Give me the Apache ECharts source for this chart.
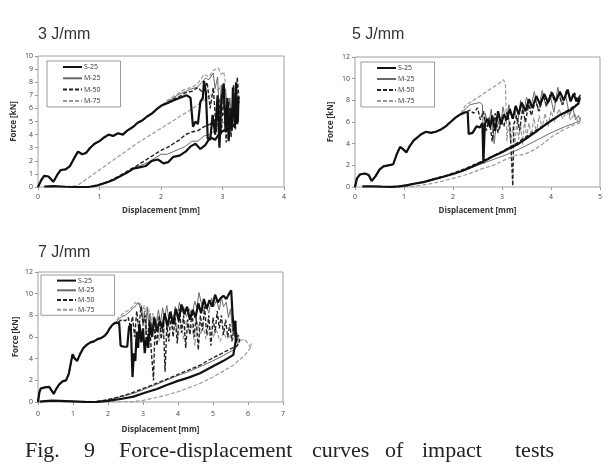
<!DOCTYPE html>
<html>
<head>
<meta charset="utf-8">
<script src="https://cdn.jsdelivr.net/npm/echarts@6/dist/echarts.min.js"></script>
<style>
  html, body { margin: 0; padding: 0; background: #fff; }
  #chart { width: 612px; height: 472px; }
</style>
</head>
<body>
<div id="chart"></div>
<script>
// --- data: [displacement mm, force kN] ---

const seriesNames = ['S-25', 'M-25', 'M-50', 'M-75']
const panelTitles = ['3 J/mm', '5 J/mm', '7 J/mm']

// 3 J/mm
const load3 = [[0,0],[0.05,0.5],[0.1,0.85],[0.17,0.8],[0.25,0.4],[0.31,0.9],[0.37,1.3],[0.45,1.35],[0.52,1.6],[0.6,2.3],[0.65,2.7],[0.72,2.5],[0.78,2.6],[0.85,3.0],[0.92,3.3],[1.0,3.5],[1.08,3.8],[1.15,4.0],[1.22,3.9],[1.3,4.1],[1.38,4.0],[1.45,4.3],[1.55,4.6],[1.62,4.9],[1.7,5.1],[1.78,5.4],[1.85,5.6],[1.92,5.9],[2.0,6.2]]
const s25_3 = [[2.1,6.4],[2.2,6.6],[2.3,6.8],[2.42,7.0],[2.48,6.8],[2.52,4.6],[2.56,5.0],[2.6,4.8],[2.64,6.5],[2.68,6.8],[2.7,8.1],[2.73,7.2],[2.76,3.7],[2.8,3.6],[2.84,5.5],[2.88,4.0],[2.92,7.0],[2.95,3.0],[2.98,6.5],[3.02,7.9],[3.05,4.2],[3.08,6.8],[3.1,3.5],[3.13,6.0],[3.15,4.3],[3.17,7.6],[3.2,4.5],[3.22,8.0],[3.24,4.8],[3.26,6.9],[3.25,5.0],[3.15,4.6],[3.05,4.4],[2.95,4.1],[2.88,3.6],[2.8,3.8],[2.72,3.2],[2.64,2.9],[2.56,3.3],[2.48,3.1],[2.4,2.7],[2.3,2.4],[2.2,2.3],[2.12,1.9],[2.04,1.8],[1.95,2.1],[1.85,2.0],[1.75,1.6],[1.65,1.5],[1.55,1.4],[1.45,1.1],[1.35,0.85],[1.25,0.6],[1.15,0.4],[1.05,0.25],[0.95,0.1],[0.85,0.02],[0.7,0],[0.45,0.02],[0.25,0.06],[0.1,0.04]]
const m25_3 = [[2.1,6.5],[2.2,6.8],[2.3,7.1],[2.4,7.3],[2.5,7.5],[2.58,7.6],[2.65,7.9],[2.72,8.3],[2.78,8.2],[2.85,8.7],[2.88,7.5],[2.92,8.4],[2.95,5.5],[2.98,7.8],[3.02,6.0],[3.05,7.5],[3.08,5.2],[3.12,6.8],[3.15,5.0],[3.1,5.0],[3.0,4.9],[2.9,4.4],[2.8,4.0],[2.7,3.9],[2.6,3.5],[2.5,3.5],[2.4,3.1],[2.3,2.9],[2.2,2.7],[2.1,2.5],[2.0,2.5],[1.9,2.2],[1.8,1.9],[1.7,1.7],[1.6,1.5],[1.5,1.3],[1.4,1.0],[1.3,0.75],[1.2,0.5],[1.1,0.3],[1.0,0.15],[0.9,0.05],[0.8,0]]
const m50_3 = [[2.1,6.4],[2.2,6.7],[2.3,6.9],[2.4,7.2],[2.5,7.3],[2.6,7.6],[2.68,7.2],[2.75,8.0],[2.8,6.0],[2.85,7.6],[2.9,4.2],[2.94,6.8],[2.98,4.0],[3.02,7.2],[3.06,3.4],[3.1,6.5],[3.14,3.8],[3.18,7.8],[3.21,4.4],[3.24,8.4],[3.27,6.5],[3.25,6.3],[3.2,6.2],[3.1,5.8],[3.0,5.5],[2.9,5.2],[2.8,4.8],[2.7,4.6],[2.6,4.3],[2.5,4.2],[2.4,4.0],[2.3,3.6],[2.2,3.3],[2.1,3.0],[2.0,2.8],[1.9,2.5],[1.8,2.2],[1.7,1.9],[1.6,1.6],[1.5,1.35],[1.4,1.05],[1.3,0.8],[1.2,0.55],[1.1,0.35],[1.0,0.2],[0.9,0.08],[0.8,0.02],[0.7,0]]
const m75_3 = [[2.1,6.6],[2.2,6.9],[2.3,7.2],[2.4,7.5],[2.5,7.6],[2.6,7.9],[2.7,8.6],[2.78,8.4],[2.85,8.9],[2.93,9.1],[2.98,8.6],[3.02,8.8],[3.05,7.9],[2.55,6.1],[1.6,3.3],[0.63,0.08],[0.4,0.03],[0.2,0.05]]

// 5 J/mm
const load5 = [[0,0],[0.04,0.8],[0.1,1.15],[0.2,1.25],[0.28,1.1],[0.34,0.55],[0.42,1.0],[0.5,1.6],[0.58,1.9],[0.68,2.0],[0.78,2.1],[0.85,3.0],[0.92,3.7],[0.98,3.5],[1.05,3.2],[1.12,3.8],[1.2,4.3],[1.28,4.6],[1.36,4.9],[1.45,5.1],[1.55,5.0],[1.65,5.1],[1.75,5.3],[1.85,5.6],[1.95,6.0],[2.05,6.4],[2.15,6.7]]
const s25_5 = [[2.25,6.9],[2.3,6.9],[2.32,4.9],[2.4,5.0],[2.48,5.6],[2.55,5.5],[2.6,5.9],[2.62,2.2],[2.65,5.8],[2.7,6.3],[2.76,5.5],[2.8,6.6],[2.86,5.2],[2.92,7.0],[2.98,5.8],[3.04,6.7],[3.1,6.2],[3.16,7.2],[3.22,6.3],[3.28,7.5],[3.34,6.7],[3.4,7.8],[3.48,7.0],[3.55,8.1],[3.62,7.3],[3.7,8.4],[3.78,7.6],[3.86,8.6],[3.94,7.8],[4.02,8.7],[4.1,7.9],[4.18,8.8],[4.26,8.0],[4.34,9.0],[4.4,7.9],[4.46,8.6],[4.52,7.9],[4.58,8.3],[4.56,7.7],[4.4,7.1],[4.2,6.7],[4.0,6.1],[3.84,5.6],[3.66,5.0],[3.5,4.5],[3.34,4.0],[3.16,3.6],[3.0,3.2],[2.8,2.8],[2.62,2.35],[2.4,1.9],[2.2,1.5],[2.0,1.2],[1.8,0.95],[1.6,0.7],[1.4,0.45],[1.2,0.3],[1.05,0.15],[0.9,0.06],[0.75,0.02],[0.55,0.03],[0.35,0.06],[0.15,0.05]]
const m25_5 = [[2.25,7.2],[2.35,7.6],[2.45,7.7],[2.55,7.8],[2.6,7.6],[2.63,3.5],[2.66,6.8],[2.72,5.6],[2.78,7.2],[2.84,4.0],[2.9,6.5],[2.96,5.4],[3.02,7.4],[3.08,6.0],[3.14,7.6],[3.2,6.4],[3.26,7.1],[3.32,5.8],[3.38,8.0],[3.44,6.8],[3.5,8.3],[3.58,7.2],[3.66,8.8],[3.74,7.0],[3.82,8.9],[3.9,7.4],[3.98,8.5],[4.06,6.9],[4.14,9.2],[4.22,7.6],[4.3,8.4],[4.38,6.6],[4.44,7.4],[4.5,6.2],[4.56,6.6],[4.6,6.1],[4.3,5.6],[4.0,5.0],[3.7,4.3],[3.4,3.6],[3.1,3.0],[2.8,2.5],[2.5,2.0],[2.2,1.5],[1.9,1.05],[1.6,0.65],[1.3,0.35],[1.0,0.1],[0.8,0]]
const m50_5 = [[2.25,6.9],[2.35,7.1],[2.42,6.8],[2.5,7.3],[2.56,6.2],[2.62,7.0],[2.68,5.2],[2.74,6.4],[2.8,4.2],[2.86,6.8],[2.92,5.0],[2.98,6.2],[3.04,5.6],[3.1,6.9],[3.16,5.9],[3.2,6.0],[3.22,0.1],[3.24,5.8],[3.3,6.6],[3.36,5.2],[3.42,7.2],[3.48,6.0],[3.54,7.6],[3.6,6.6],[3.68,8.0],[3.76,7.0],[3.84,8.4],[3.92,7.5],[4.0,8.8],[4.08,7.8],[4.16,8.5],[4.24,7.6],[4.32,9.0],[4.4,8.0],[4.48,8.7],[4.54,8.0],[4.6,8.5],[4.58,7.8],[4.45,7.4],[4.25,6.8],[4.05,6.3],[3.85,5.7],[3.65,5.1],[3.45,4.5],[3.25,3.9],[3.05,3.4],[2.85,2.95],[2.65,2.5],[2.45,2.1],[2.25,1.7],[2.05,1.35],[1.85,1.05],[1.65,0.8],[1.45,0.55],[1.25,0.35],[1.05,0.18],[0.9,0.07],[0.75,0]]
const m75_5 = [[2.25,7.5],[2.35,7.8],[2.45,8.1],[2.55,8.4],[2.65,8.7],[2.75,9.0],[2.85,9.3],[2.95,9.6],[3.03,9.9],[3.07,9.5],[3.1,4.2],[3.14,6.2],[3.18,4.0],[3.22,5.6],[3.26,3.8],[3.3,6.0],[3.34,4.4],[3.38,5.8],[3.42,3.9],[3.46,6.2],[3.5,4.6],[3.55,5.9],[3.6,4.8],[3.65,6.4],[3.7,5.0],[3.76,6.6],[3.82,5.4],[3.88,6.8],[3.94,5.6],[4.0,7.0],[4.08,6.0],[4.16,7.2],[4.24,6.3],[4.32,7.0],[4.4,6.2],[4.48,6.8],[4.55,6.0],[4.6,6.4],[4.58,5.9],[4.4,5.6],[4.18,5.1],[4.0,4.6],[3.84,4.0],[3.64,3.4],[3.45,3.0],[3.3,2.95],[3.1,2.6],[2.82,2.0],[2.6,1.7],[2.4,1.35],[2.2,1.05],[2.0,0.8],[1.8,0.55],[1.6,0.35],[1.4,0.2],[1.2,0.08],[1.0,0.02],[0.8,0]]

// 7 J/mm
const load7 = [[0,0],[0.04,0.9],[0.08,1.25],[0.2,1.35],[0.32,1.4],[0.4,1.0],[0.45,0.75],[0.52,1.2],[0.6,1.6],[0.7,1.9],[0.8,2.0],[0.88,2.6],[0.95,3.8],[0.99,4.4],[1.05,4.0],[1.12,3.8],[1.2,4.4],[1.3,5.0],[1.4,5.3],[1.5,5.5],[1.6,5.6],[1.7,5.8],[1.8,5.9],[1.9,6.1],[1.98,6.4],[2.05,6.8],[2.12,7.1],[2.2,7.3]]
const s25_7 = [[2.32,7.3],[2.36,5.2],[2.45,5.1],[2.55,5.1],[2.6,6.9],[2.65,7.2],[2.7,2.3],[2.74,4.5],[2.78,3.8],[2.82,6.5],[2.86,5.0],[2.9,7.2],[2.95,5.5],[3.0,6.8],[3.05,4.5],[3.1,6.0],[3.15,5.0],[3.2,7.3],[3.26,6.0],[3.32,7.8],[3.4,6.5],[3.48,7.5],[3.55,6.8],[3.62,8.2],[3.7,7.0],[3.78,8.3],[3.86,7.2],[3.94,8.6],[4.02,7.5],[4.1,9.0],[4.18,8.1],[4.26,8.8],[4.34,7.6],[4.42,8.5],[4.5,7.8],[4.58,9.1],[4.66,8.2],[4.74,9.5],[4.82,8.6],[4.9,9.4],[4.98,8.8],[5.06,9.9],[5.14,9.2],[5.22,9.6],[5.3,9.8],[5.38,9.5],[5.46,10.0],[5.52,10.3],[5.56,8.0],[5.6,6.5],[5.64,7.5],[5.66,5.8],[5.58,4.35],[5.3,3.8],[5.0,3.3],[4.63,2.65],[4.3,2.25],[4.0,1.95],[3.68,1.57],[3.4,1.2],[3.05,0.85],[2.73,0.5],[2.4,0.3],[2.0,0.1],[1.7,0.02],[1.4,0],[1.0,0.05],[0.6,0.1],[0.4,0.12],[0.2,0.08],[0.05,0.03]]
const m25_7 = [[2.3,7.6],[2.4,7.9],[2.5,8.0],[2.6,8.3],[2.7,8.6],[2.8,8.9],[2.87,9.2],[2.92,8.7],[2.96,8.9],[3.0,7.0],[3.04,8.4],[3.08,6.2],[3.12,8.8],[3.16,7.4],[3.2,8.2],[3.26,6.5],[3.32,7.9],[3.38,7.1],[3.44,8.5],[3.5,7.3],[3.56,8.7],[3.62,7.8],[3.68,8.9],[3.74,7.6],[3.8,8.4],[3.86,7.4],[3.92,8.8],[3.98,8.0],[4.04,9.2],[4.1,8.3],[4.16,8.8],[4.24,7.9],[4.32,8.6],[4.4,8.0],[4.48,9.3],[4.54,8.7],[4.6,10.1],[4.66,9.2],[4.72,8.4],[4.8,9.0],[4.88,8.2],[4.96,9.6],[5.02,8.8],[5.1,9.4],[5.18,8.5],[5.24,9.7],[5.3,8.8],[5.38,9.2],[5.44,7.8],[5.5,8.6],[5.56,6.5],[5.6,7.3],[5.64,5.2],[5.68,6.4],[5.72,5.5],[5.66,5.0],[5.58,4.8],[5.3,4.3],[5.0,3.8],[4.63,3.26],[4.3,2.8],[4.0,2.45],[3.68,2.03],[3.4,1.65],[3.05,1.2],[2.73,0.8],[2.4,0.5],[2.0,0.2],[1.8,0.08],[1.6,0]]
const m50_7 = [[2.3,7.4],[2.4,7.6],[2.5,7.5],[2.58,7.8],[2.64,6.8],[2.7,7.9],[2.76,6.0],[2.82,8.4],[2.88,6.6],[2.94,8.8],[3.0,7.2],[3.06,8.0],[3.12,5.4],[3.18,7.6],[3.24,4.6],[3.3,2.0],[3.34,6.8],[3.4,5.2],[3.46,8.0],[3.52,5.8],[3.58,7.4],[3.63,2.8],[3.68,7.0],[3.74,5.6],[3.8,8.2],[3.86,6.0],[3.92,7.8],[3.98,5.4],[4.04,8.6],[4.1,6.4],[4.16,8.0],[4.22,5.0],[4.28,7.6],[4.34,6.2],[4.4,8.4],[4.46,6.0],[4.52,7.8],[4.58,4.8],[4.64,8.0],[4.7,6.6],[4.76,8.8],[4.82,6.2],[4.88,8.0],[4.94,5.2],[5.0,7.8],[5.06,6.4],[5.12,8.4],[5.18,6.8],[5.24,8.0],[5.3,6.2],[5.36,7.6],[5.42,6.0],[5.48,7.2],[5.54,5.6],[5.6,6.8],[5.66,5.4],[5.72,6.2],[5.76,5.6],[5.7,5.2],[5.5,4.9],[5.2,4.4],[4.9,3.9],[4.63,3.4],[4.3,2.95],[4.0,2.55],[3.68,2.1],[3.4,1.75],[3.05,1.3],[2.73,0.9],[2.4,0.55],[2.1,0.3],[1.8,0.1],[1.6,0.02]]
const m75_7 = [[2.3,7.8],[2.4,8.1],[2.5,8.3],[2.6,8.5],[2.7,8.8],[2.78,9.2],[2.86,9.0],[2.92,9.1],[2.98,8.4],[3.04,8.9],[3.1,7.8],[3.16,8.6],[3.22,7.0],[3.28,8.2],[3.34,6.4],[3.4,7.8],[3.46,5.6],[3.52,7.4],[3.58,6.2],[3.64,7.8],[3.7,6.6],[3.76,8.0],[3.84,6.8],[3.92,7.6],[4.0,6.0],[4.08,7.2],[4.16,5.8],[4.24,7.6],[4.32,6.4],[4.4,7.0],[4.48,5.2],[4.56,7.4],[4.64,6.2],[4.72,7.0],[4.8,5.8],[4.9,6.8],[5.0,6.0],[5.1,6.6],[5.2,5.6],[5.3,6.4],[5.4,5.8],[5.5,6.2],[5.6,5.8],[5.7,6.0],[5.8,5.7],[5.9,5.8],[6.0,5.4],[6.08,5.0],[6.1,5.4],[6.05,4.9],[5.9,4.3],[5.58,3.4],[5.3,2.85],[5.0,2.3],[4.63,1.72],[4.3,1.3],[4.0,0.95],[3.68,0.65],[3.3,0.35],[3.0,0.15],[2.73,0.04],[2.4,0.02],[2.0,0.05],[1.6,0.04],[1.2,0.06],[0.9,0.03],[0.6,0.05]]

const xMax = [4, 5, 7]
const yMax = [10, 12, 12]
const yStep = [1, 2, 2]

const curves = [
  [load3.concat(s25_3), load3.concat(m25_3), load3.concat(m50_3), load3.concat(m75_3)],
  [load5.concat(s25_5), load5.concat(m25_5), load5.concat(m50_5), load5.concat(m75_5)],
  [load7.concat(s25_7), load7.concat(m25_7), load7.concat(m50_7), load7.concat(m75_7)]
]

// --- layout / style ---
const grids = [
  { left: 38, top: 56, width: 246, height: 131 },
  { left: 355, top: 57, width: 245, height: 130 },
  { left: 38, top: 272, width: 245, height: 130 }
]
const legendPos = [
  { left: 47, top: 61, gap: 3.3, h: 10 },
  { left: 361, top: 62, gap: 3, h: 10 },
  { left: 41, top: 275, gap: 2.5, h: 9 }
]
const titlePos = [[38, 27], [352, 27], [38, 245]]
const xNameGap = [20, 20, 24]
const xLabelMargin = [6, 6, 8]
const lineStyles = [
  { color: '#111', width: 2.2, type: 'solid' },
  { color: '#6a6a6a', width: 1, type: 'solid' },
  { color: '#222', width: 1.4, type: [4, 2] },
  { color: '#9a9a9a', width: 1.2, type: [4, 2] }
]

const labelFont = { fontFamily: 'Open Sans', fontSize: 7, color: '#444' }
const nameFont = { fontFamily: 'Open Sans', fontSize: 8, fontWeight: 'bold', color: '#333' }

const xAxis = grids.map((g, i) => ({
  gridIndex: i, type: 'value', min: 0, max: xMax[i], interval: 1,
  axisLine: { show: false }, splitLine: { show: false },
  axisTick: { show: true, length: 3, lineStyle: { color: '#999' } },
  axisLabel: { ...labelFont, margin: xLabelMargin[i] },
  name: 'Displacement [mm]', nameLocation: 'middle', nameGap: xNameGap[i], nameTextStyle: nameFont
}))
const yAxis = grids.map((g, i) => ({
  gridIndex: i, type: 'value', min: 0, max: yMax[i], interval: yStep[i],
  axisLine: { show: false }, splitLine: { show: false },
  axisTick: { show: true, length: 3, lineStyle: { color: '#999' } },
  axisLabel: { ...labelFont, margin: 5 },
  name: 'Force [kN]', nameLocation: 'middle', nameRotate: 90, nameGap: i == 2 ? 18 : 20, nameTextStyle: nameFont
}))

const series = []
curves.forEach((set, i) => {
  // draw gray ones first, black on top
  ;[3, 1, 2, 0].forEach(k => {
    series.push({
      name: seriesNames[k], type: 'line', xAxisIndex: i, yAxisIndex: i,
      data: set[k], symbol: 'none', lineStyle: lineStyles[k], itemStyle: { color: lineStyles[k].color },
      silent: true
    })
  })
})

const legend = legendPos.map(p => ({
  data: seriesNames, orient: 'vertical', left: p.left, top: p.top,
  itemWidth: 19, itemHeight: p.h, itemGap: p.gap,
  padding: [2, 20, 2, 15], borderColor: '#999', borderWidth: 1, backgroundColor: '#fff',
  itemStyle: { opacity: 0 },
  textStyle: { fontFamily: 'Open Sans', fontSize: 7, color: '#333', padding: [0, 0, 0, -3] },
  selectedMode: false
}))

const title = panelTitles.map((t, i) => ({
  text: t, left: titlePos[i][0], top: titlePos[i][1], padding: 0,
  textStyle: { fontFamily: 'Liberation Sans', fontSize: 16, fontWeight: 'normal', color: '#333' }
}))

// caption, word positions (justified line)
const capWords = [['Fig.', 25], ['9', 84], ['Force-displacement', 119], ['curves', 312], ['of', 385], ['impact', 422], ['tests', 515]]
const graphic = capWords.map(w => ({
  type: 'text', left: w[1], top: 440,
  style: { text: w[0], font: '22px "Liberation Serif"', fill: '#222' }
}))

const chart = echarts.init(document.getElementById('chart'), null, { renderer: 'canvas' })
chart.setOption({
  animation: false,
  backgroundColor: '#fff',
  title,
  grid: grids.map(g => ({ ...g, show: true, borderColor: '#a0a0a0', borderWidth: 1, backgroundColor: 'transparent' })),
  xAxis, yAxis, legend, series, graphic
})
</script>
</body>
</html>
